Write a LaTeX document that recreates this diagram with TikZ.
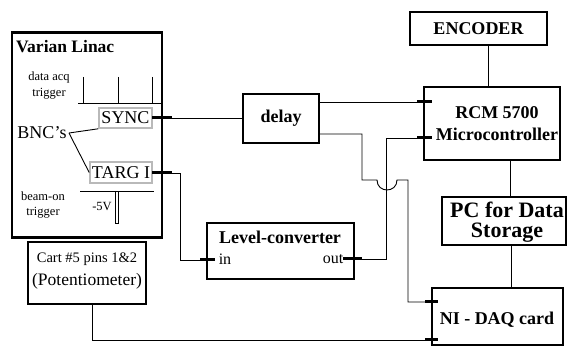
\documentclass[tikz,border=0pt]{standalone}
\usepackage{fontspec}
\setmainfont{Liberation Serif}
\begin{document}
\begin{tikzpicture}[x=1pt,y=-1pt,
  box/.style={draw, line width=1.6pt, inner sep=0pt, align=center, font=\bfseries\fontsize{18}{21}\selectfont},
  heavybox/.style={box, line width=2.6pt},
  bncbox/.style={draw=gray!55, line width=1.6pt, inner sep=0pt, font=\fontsize{18}{20}\selectfont},
  txt/.style={inner sep=0pt, align=center, font=\fontsize{18}{20}\selectfont},
  smalltxt/.style={inner sep=0pt, align=center, font=\fontsize{12.5}{15.5}\selectfont},
  tabline/.style={line width=3pt},
  wire/.style={line width=0.9pt}]
\useasboundingbox (0,0) rectangle (568,347);

% boxes
\node[heavybox, minimum width=150pt, minimum height=205pt] (linac) at (87,135) {};
\node[heavybox, minimum width=118pt, minimum height=62pt] (cart) at (87,273) {};
\node[box, minimum width=76pt, minimum height=49pt] (delay) at (281,118.5) {delay};
\node[box, minimum width=147pt, minimum height=56pt] (level) at (280.5,251) {};
\node[box, minimum width=137pt, minimum height=33pt] (enc) at (478.5,28.5) {ENCODER};
\node[box, minimum width=136pt, minimum height=73pt] (rcm) at (492,123.5) {};
\node[heavybox, minimum width=124pt, minimum height=48pt] (pc) at (504,221) {};
\node[box, minimum width=131pt, minimum height=57pt] (ni) at (497.5,316.5) {};

% texts
\node[txt, font=\bfseries\fontsize{17.5}{20}\selectfont, anchor=west] (title) at (16,47) {Varian Linac};
\node[smalltxt] (daq) at (49,85.5) {data acq\\trigger};
\node[smalltxt] (beam) at (43,205) {beam-on\\trigger};
\node[smalltxt] (mfive) at (102,207) {-5V};
\node[txt] (bncs) at (42,133) {BNC{\char"27}s};
\node[bncbox, minimum width=53pt, minimum height=20pt] (sync) at (125.5,118) {SYNC};
\node[bncbox, minimum width=62pt, minimum height=21pt] (targ) at (121,172.5) {TARG I};
\node[txt, font=\fontsize{14.5}{16}\selectfont] (carttxt) at (87,259) {Cart \#5 pins 1\&2};
\node[txt, font=\fontsize{17.5}{19}\selectfont] (pottxt) at (87,281) {(Potentiometer)};
\node[txt, font=\bfseries\fontsize{18}{20}\selectfont] (leveltxt) at (280,237) {Level-converter};
\node[txt, font=\fontsize{16}{18}\selectfont] (intxt) at (225,259) {in};
\node[txt, font=\fontsize{16}{18}\selectfont] (outtxt) at (333,259) {out};
\node[txt, font=\bfseries\fontsize{18}{22}\selectfont] (rcmtxt) at (497,124) {RCM 5700\\Microcontroller};
\node[txt, font=\bfseries\fontsize{22}{20.5}\selectfont] (pctxt) at (507,222) {PC for Data\\Storage};
\node[txt, font=\bfseries\fontsize{18}{20}\selectfont] (nitxt) at (497,320) {NI - DAQ card};

% trigger pulses
\draw[wire] (83,77) -- (83,103) (118,77) -- (118,103) (152,77) -- (152,103);
\draw[wire] (78,103) -- (linac.east |- 0,103);
\draw[wire] (80,191) -- (154,191);
\draw[wire] (115,191) -- (115,223) -- (118,223) -- (118,191);

% BNC pointer lines
\coordinate (bncend) at (69,133);
\draw[wire] (bncend) -- (sync.south west);
\draw[wire] (bncend) -- (targ.west);

% named tab points
\coordinate (syncA) at (152,118);
\coordinate (syncB) at (172,118);
\coordinate (targA) at (152,173);
\coordinate (targB) at (172,173);
\coordinate (inA) at (200,260);
\coordinate (inB) at (215,260);
\coordinate (outA) at (343,259);
\coordinate (outB) at (362,259);
\coordinate (rcmA1) at (417,102);
\coordinate (rcmB1) at (432,102);
\coordinate (rcmA2) at (417,138);
\coordinate (rcmB2) at (432,138);
\coordinate (niA1) at (425,302);
\coordinate (niB1) at (438,302);
\coordinate (niA2) at (425,340);
\coordinate (niB2) at (438,340);

% tabs
\foreach \a/\b in {syncA/syncB, targA/targB, inA/inB, outA/outB, rcmA1/rcmB1, rcmA2/rcmB2, niA1/niB1, niA2/niB2}
  \draw[tabline] (\a) -- (\b);

% wires
\draw[wire] (syncB) -- (delay.west |- syncB);
\draw[wire] (targB) -- (180,173) -- (180,260) -- (inA);
\draw[wire] (delay.east |- rcmA1) -- (rcmA1);
\draw[wire] (delay.east |- 0,134) -- (362,134) -- (362,180) -- (377,180)
   .. controls (377,193.3) and (397,193.3) .. (397,180) -- (408,180) -- (408,302) -- (niA1);
\draw[wire] (outB) -- (386,259) -- (386,138) -- (rcmA2);
\draw[wire] (cart.south -| 92,0) -- (92,340) -- (niA2);
\draw[wire] (enc.south -| 488,0) -- (rcm.north -| 488,0);
\draw[wire] (rcm.south -| 510,0) -- (pc.north -| 510,0);
\draw[wire] (pc.south -| 511,0) -- (ni.north -| 511,0);
\end{tikzpicture}
\end{document}
